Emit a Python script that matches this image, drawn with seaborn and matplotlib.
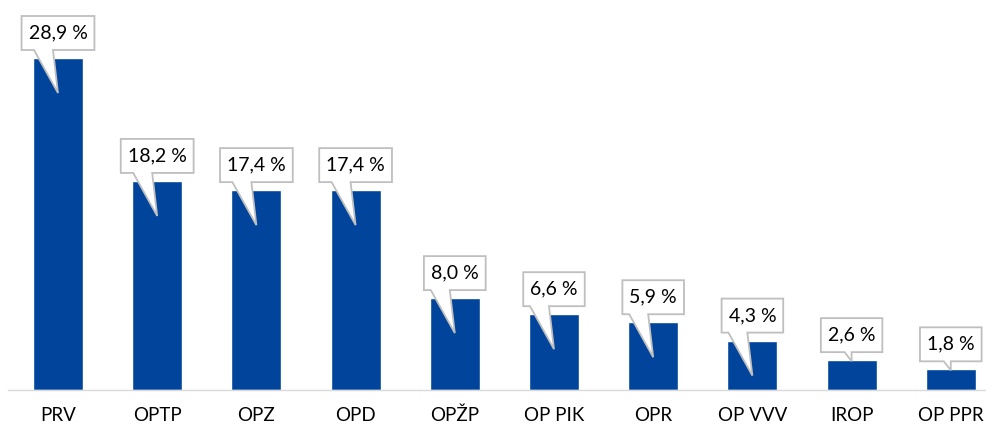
import matplotlib
matplotlib.use("Agg")
import matplotlib.pyplot as plt
from matplotlib.patches import Polygon
from matplotlib.transforms import IdentityTransform
import seaborn as sns
import pandas as pd

# Share of each operational programme (%)
categories = ["PRV", "OPTP", "OPZ", "OPD", "OPŽP", "OP PIK", "OPR", "OP VVV", "IROP", "OP PPR"]
shares = [28.9, 18.2, 17.4, 17.4, 8.0, 6.6, 5.9, 4.3, 2.6, 1.8]

BAR_BLUE = "#00449B"
BOX_EDGE = "#BFBFBF"
AXIS_GREY = "#D9D9D9"

sns.set_theme(style="white")
plt.rcParams["font.family"] = ["Lato", "DejaVu Sans"]

df = pd.DataFrame({"program": categories, "share": shares})

W, H = 987, 428
fig = plt.figure(figsize=(W / 100, H / 100), dpi=100)
ax = fig.add_axes([8 / W, 38 / H, 979 / W, 390 / H])

sns.barplot(data=df, x="program", y="share", color=BAR_BLUE, saturation=1,
            width=0.504, ax=ax)

ax.set_xlim(-0.504, 9.365)
ax.set_ylim(0, 33.95)
ax.set_xlabel("")
ax.set_ylabel("")
ax.set_yticks([])
for side in ("left", "top", "right"):
    ax.spines[side].set_visible(False)
ax.spines["bottom"].set_color(AXIS_GREY)
ax.spines["bottom"].set_linewidth(1.0)
ax.tick_params(axis="x", length=0, pad=12, labelsize=13.5, labelcolor="black")

fig.canvas.draw()
renderer = fig.canvas.get_renderer()

# Callout labels: white box above each bar with a pointer into the bar
gap, box_h = 8, 34
for i, v in enumerate(shares):
    label = f"{v:.1f}".replace(".", ",") + " %"
    cx, top = ax.transData.transform((i, v))
    txt = ax.annotate(label, xy=(i, v), xytext=(0, gap + box_h / 2),
                      textcoords="offset pixels", ha="center", va="center",
                      fontsize=14, color="black", zorder=6,
                      annotation_clip=False)
    tw = txt.get_window_extent(renderer).width
    box_w = tw + 14
    L, R = cx - box_w / 2, cx + box_w / 2
    B, T = top + gap, top + gap + box_h
    if v >= 4:
        tip_y = top - 35
        b1, b2 = cx - 24, cx - 5
    else:
        tip_y = top - 1
        b1, b2 = cx - 7, cx
    verts = [(L, B), (b1, B), (cx, tip_y), (b2, B), (R, B), (R, T), (L, T)]
    poly = Polygon(verts, closed=True, facecolor="white", edgecolor=BOX_EDGE,
                   linewidth=1.3, transform=IdentityTransform(), zorder=5,
                   clip_on=False)
    ax.add_patch(poly)

fig.savefig("out.png", dpi=100)
